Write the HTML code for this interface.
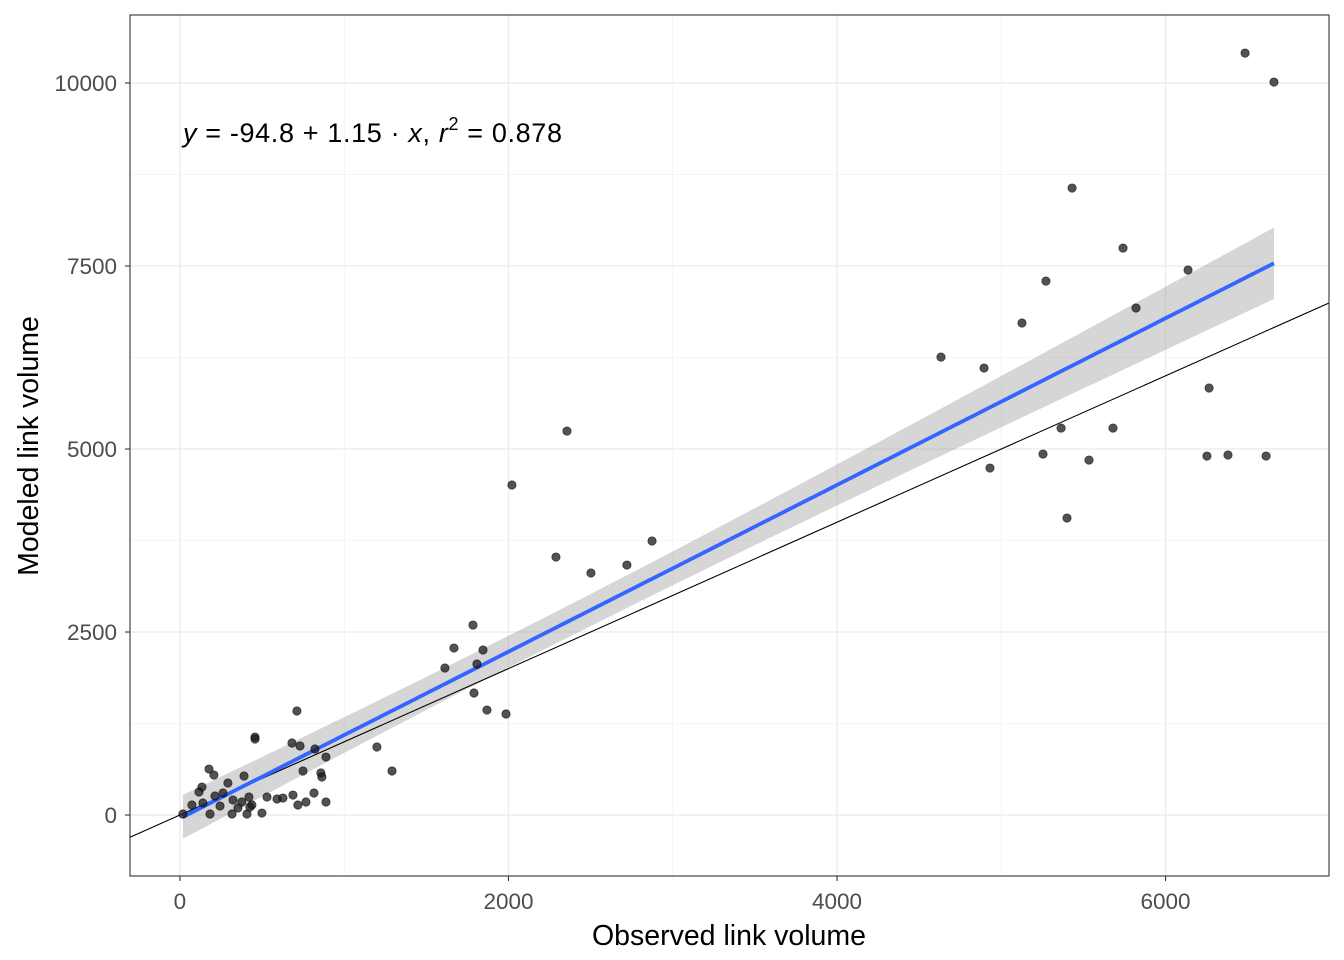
<!DOCTYPE html>
<html><head><meta charset="utf-8"><style>
html,body{margin:0;padding:0;background:#fff;}
svg{display:block;font-family:"Liberation Sans",sans-serif;}
</style></head><body>
<svg id="chart" width="1344" height="960" viewBox="0 0 1344 960" xmlns="http://www.w3.org/2000/svg">
<rect x="0" y="0" width="1344" height="960" fill="#fff"/>
<g id="grid"></g>
<g id="band"></g>
<g id="lines"></g>
<g id="pts"></g>
<rect x="130" y="15" width="1199" height="861" fill="none" stroke="#333" stroke-width="1.1"/>
<g id="ticks"></g>
<text x="183" y="142" font-size="27" textLength="379" lengthAdjust="spacing"><tspan font-style="italic">y</tspan><tspan> = -94.8 + 1.15 · </tspan><tspan font-style="italic">x</tspan><tspan>,  </tspan><tspan font-style="italic">r</tspan><tspan dy="-12" font-size="18">2</tspan><tspan dy="12"> = 0.878</tspan></text>
<text x="729" y="945" font-size="28.5" text-anchor="middle" fill="#000">Observed link volume</text>
<text transform="translate(38,446) rotate(-90)" font-size="28.5" text-anchor="middle" fill="#000">Modeled link volume</text>
</svg>
<script>
const xs = [712,457,457,682,731,822,889,1199,1291,177,207,390,292,749,858,864,134,116,213,262,73,140,183,244,323,377,420,438,317,408,499,530,591,627,688,718,767,816,889,426,353,18,
1613,1668,1784,1808,1845,1790,1869,1985,2021,2289,2356,2502,2721,2874,
4633,4895,4931,5126,5272,5254,5364,5400,5431,5534,5680,5741,5820,6137,6265,6252,6380,6484,6612,6660];
const ys = [1421,1065,1038,984,943,902,792,929,601,628,546,533,437,601,574,519,382,314,260,301,137,164,14,123,205,178,246,137,14,14,27,246,219,232,273,137,178,301,178,109,96,14,
2008,2281,2595,2063,2254,1667,1434,1380,4508,3524,5245,3306,3415,3743,
6256,6106,4740,6721,7294,4931,5286,4057,8565,4849,5286,7745,6926,7445,5833,4904,4918,10409,4904,10013];
const xTicks = [0,2000,4000,6000];
const yTicks = [0,2500,5000,7500,10000];
const xMinor = [-1000,1000,3000,5000,7000];
const yMinor = [1250,3750,6250,8750];

const X0=130,X1=1329,Y0=15,Y1=876;
const xDom=[-304,6995], yDom=[-833,10929];
const sx=v=>X0+(v-xDom[0])/(xDom[1]-xDom[0])*(X1-X0);
const sy=v=>Y1-(v-yDom[0])/(yDom[1]-yDom[0])*(Y1-Y0);
const NS="http://www.w3.org/2000/svg";
function mk(tag,attrs,parent){const e=document.createElementNS(NS,tag);for(const k in attrs)e.setAttribute(k,attrs[k]);parent.appendChild(e);return e;}
const grid=document.getElementById('grid'),ticks=document.getElementById('ticks');
xMinor.forEach(v=>{const x=sx(v);if(x<X0||x>X1)return;const l=mk('line',{x1:x,x2:x,y1:Y0,y2:Y1,stroke:'#f2f2f2','stroke-width':0.8},grid);

});
yMinor.forEach(v=>{const y=sy(v);const l=mk('line',{x1:X0,x2:X1,y1:y,y2:y,stroke:'#f2f2f2','stroke-width':0.8},grid);

});
xTicks.forEach(v=>{const x=sx(v);const l=mk('line',{x1:x,x2:x,y1:Y0,y2:Y1,stroke:'#ebebeb','stroke-width':1.3},grid);


const t=mk('line',{x1:x,x2:x,y1:Y1,y2:Y1+5,stroke:'#333','stroke-width':1.1},ticks);


const tx=mk('text',{x:x,y:909,'font-size':22.5,'text-anchor':'middle',fill:'#4d4d4d'},ticks);tx.textContent=v;

});
yTicks.forEach(v=>{const y=sy(v);const l=mk('line',{x1:X0,x2:X1,y1:y,y2:y,stroke:'#ebebeb','stroke-width':1.3},grid);


const t=mk('line',{x1:X0-5,x2:X0,y1:y,y2:y,stroke:'#333','stroke-width':1.1},ticks);


const tx=mk('text',{x:X0-13,y:y+8,'font-size':22.5,'text-anchor':'end',fill:'#4d4d4d'},ticks);tx.textContent=v;

});

// fit
const n=xs.length;const mx=xs.reduce((a,b)=>a+b)/n,my=ys.reduce((a,b)=>a+b)/n;
let sxx=0,sxy=0;for(let i=0;i<n;i++){sxx+=(xs[i]-mx)**2;sxy+=(xs[i]-mx)*(ys[i]-my);}
const b=sxy/sxx,a=my-b*mx;let sse=0;for(let i=0;i<n;i++)sse+=(ys[i]-a-b*xs[i])**2;
const s=Math.sqrt(sse/(n-2)),tq=1.85;
const xmin=Math.min(...xs),xmax=Math.max(...xs);
let up=[],lo=[],mid=[];
for(let k=0;k<=80;k++){const x=xmin+(xmax-xmin)*k/80;const f=a+b*x;const se=s*Math.sqrt(1/n+(x-mx)**2/sxx);
up.push(sx(x)+','+sy(f+tq*se));lo.unshift(sx(x)+','+sy(f-tq*se));mid.push(sx(x)+','+sy(f));}
const band=mk('polygon',{points:up.concat(lo).join(' '),fill:'#999',opacity:0.4},document.getElementById('band'));


const lines=document.getElementById('lines');
const id=mk('line',{x1:sx(xDom[0]),y1:sy(xDom[0]),x2:sx(xDom[1]),y2:sy(xDom[1]),stroke:'#000','stroke-width':1.1},lines);


const fl=mk('polyline',{points:mid.join(' '),fill:'none',stroke:'#3366ff','stroke-width':3.8},lines);


const pts=document.getElementById('pts');
for(let i=0;i<n;i++){const c=mk('circle',{cx:sx(xs[i]),cy:sy(ys[i]),r:4.2,fill:'#1a1a1a','fill-opacity':0.75,stroke:'#000','stroke-opacity':0.6,'stroke-width':0.8},pts);

}
</script>
</body></html>
